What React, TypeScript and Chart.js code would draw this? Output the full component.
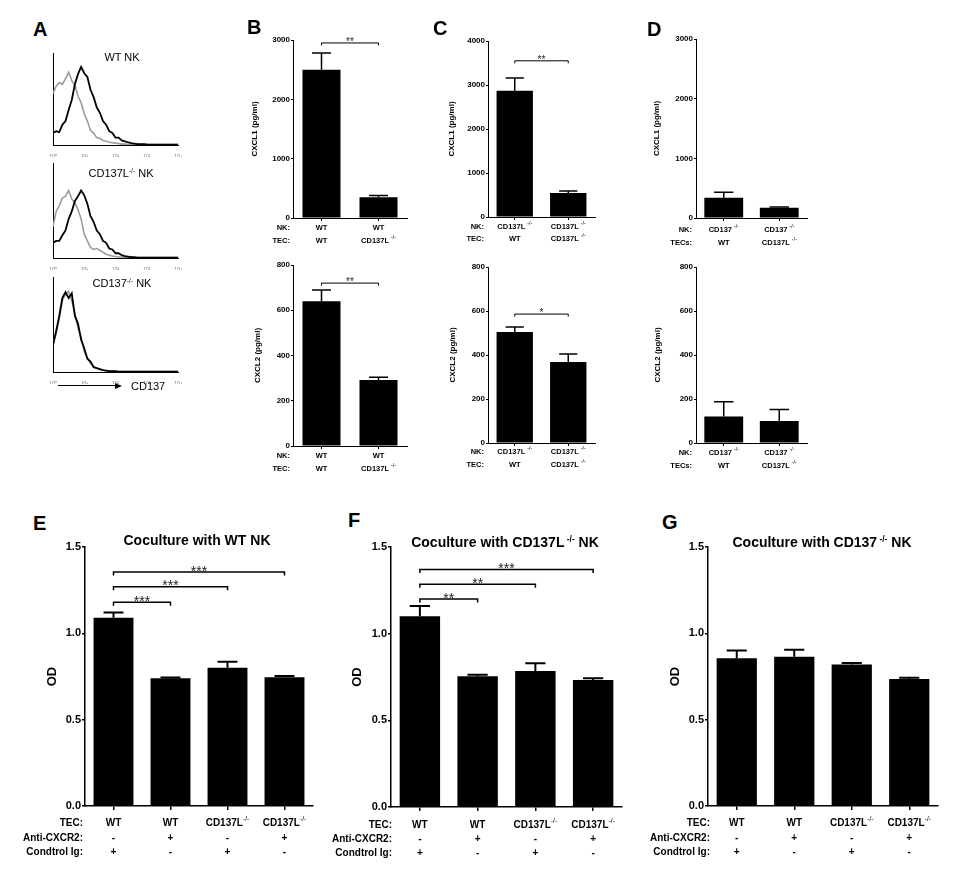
import React, { useEffect, useRef } from "react";
import { Chart, registerables } from "chart.js";
Chart.register(...registerables);

const FONT = '"Liberation Sans", Arial, Helvetica, sans-serif';
Chart.defaults.font.family = FONT;

// ---------- Panel A: flow histograms (x in log decades, y in % of max) ----------
const HIST_DECADES = [0, 0.1, 0.2, 0.3, 0.4, 0.5, 0.6, 0.7, 0.8, 0.9, 1, 1.1, 1.2, 1.3, 1.4, 1.5, 1.6, 1.7, 1.8, 1.9, 2, 2.1, 2.2, 2.3, 2.4, 2.5, 2.6, 2.7, 2.8, 2.9, 3, 3.1, 3.2, 3.3, 3.4, 3.5, 3.6, 3.7, 3.8, 3.9, 4];
const HIST_TICKS = ["10\u2070", "10\u00b9", "10\u00b2", "10\u00b3", "10\u2074"];
const A1_CD137 = [13, 15, 14, 22, 26, 38, 49, 66, 77, 85, 78, 74, 60, 52, 41, 35, 26, 22, 15, 13, 8, 8, 5, 4, 3, 2, 1.5, 1, 1, 0.8, 0.6, 0.5, 0.5, 0.5, 0.5, 0.5, 0.5, 0.5, 0.5, 0.5, 0.5];
const A1_ISO = [56, 64, 68, 66, 72, 79, 70, 65, 53, 46, 34, 26, 16, 13, 8, 7, 5, 4, 3, 2.5, 2, 1.5, 1, 1, 0.8, 0.5, 0.5, 0.5, 0.5, 0.5, 0.5, 0.5, 0.5, 0.5, 0.5, 0.5, 0.5, 0.5, 0.5, 0.5, 0.5];
const A2_CD137 = [16, 18, 18, 24, 29, 41, 49, 60, 65, 71, 66, 57, 44, 38, 29, 25, 18, 16, 10, 9, 5, 5, 3, 2, 1.5, 1, 1, 0.5, 0.5, 0.5, 0.5, 0.5, 0.5, 0.5, 0.5, 0.5, 0.5, 0.5, 0.5, 0.5, 0.5];
const A2_ISO = [33, 49, 55, 63, 65, 71, 62, 58, 51, 41, 25, 18, 11, 9, 10, 8, 6, 4, 3, 2, 1.5, 1, 1, 0.5, 0.5, 0.5, 0.5, 0.5, 0.5, 0.5, 0.5, 0.5, 0.5, 0.5, 0.5, 0.5, 0.5, 0.5, 0.5, 0.5, 0.5];
const A3_CD137 = [28, 43, 59, 78, 84, 78, 83, 59, 51, 34, 25, 14, 11, 5, 4, 3, 2, 1.5, 1, 1, 0.8, 0.5, 0.5, 0.5, 0.5, 0.5, 0.5, 0.5, 0.5, 0.5, 0.5, 0.5, 0.5, 0.5, 0.5, 0.5, 0.5, 0.5, 0.5, 0.5, 0.5];
const A3_ISO = [30, 40, 56, 75, 82, 85, 75, 62, 46, 37, 21, 15, 9, 6, 4, 2.5, 2, 1, 1, 0.8, 0.5, 0.5, 0.5, 0.5, 0.5, 0.5, 0.5, 0.5, 0.5, 0.5, 0.5, 0.5, 0.5, 0.5, 0.5, 0.5, 0.5, 0.5, 0.5, 0.5, 0.5];

// ---------- Panels B-D: chemokines (pg/ml) ----------
const B_NK = ["WT", "WT"];
const B_TEC = ["WT", "CD137L ^-/-"];
const C_NK = ["CD137L ^-/-", "CD137L ^-/-"];
const C_TEC = ["WT", "CD137L ^-/-"];
const D_NK = ["CD137 ^-/-", "CD137 ^-/-"];
const D_TEC = ["WT", "CD137L ^-/-"];

const B1_VALUES = [2500, 350];
const B1_ERR = [280, 30];
const B2_VALUES = [640, 292];
const B2_ERR = [50, 12];
const C1_VALUES = [2870, 545];
const C1_ERR = [290, 45];
const C2_VALUES = [505, 368];
const C2_ERR = [22, 37];
const D1_VALUES = [340, 170];
const D1_ERR = [90, 15];
const D2_VALUES = [120, 100];
const D2_ERR = [68, 52];

const B1_SIG = [{ from: 0, to: 1, y: 2950, text: "**" }];
const B2_SIG = [{ from: 0, to: 1, y: 720, text: "**" }];
const C1_SIG = [{ from: 0, to: 1, y: 3550, text: "**" }];
const C2_SIG = [{ from: 0, to: 1, y: 586, text: "*" }];

// ---------- Panels E-G: OD ----------
const EFG_TEC = ["WT", "WT", "CD137L^-/-", "CD137L^-/-"];
const EFG_ANTI = ["-", "+", "-", "+"];
const EFG_IG = ["+", "-", "+", "-"];
const EFG_HEADERS = ["TEC:", "Anti-CXCR2:", "Condtrol Ig:"];

const E_VALUES = [1.09, 0.74, 0.8, 0.745];
const E_ERR = [0.03, 0.004, 0.035, 0.008];
const F_VALUES = [1.1, 0.755, 0.785, 0.733];
const F_ERR = [0.06, 0.008, 0.045, 0.01];
const G_VALUES = [0.855, 0.865, 0.82, 0.735];
const G_ERR = [0.045, 0.04, 0.008, 0.008];

const E_SIG = [
  { from: 0, to: 1, y: 1.18, text: "***" },
  { from: 0, to: 2, y: 1.27, text: "***" },
  { from: 0, to: 3, y: 1.355, text: "***" },
];
const F_SIG = [
  { from: 0, to: 1, y: 1.2, text: "**" },
  { from: 0, to: 2, y: 1.285, text: "**" },
  { from: 0, to: 3, y: 1.37, text: "***" },
];

type Sig = { from: number; to: number; y: number; text: string };
type BarSpec = {
  box: number[];
  axisX: number;
  plotRight: number;
  plotTop: number;
  plotBottom: number;
  yMax: number;
  yStep: number;
  decimals: number;
  values: number[];
  errors: number[];
  barPct: number;
  yTitle: string;
  yTitleX: number;
  headers: string[];
  headerRight: number;
  rowOffsets: number[];
  cells: string[][];
  sigs: Sig[];
  big: boolean;
};

function drawRich(ctx: CanvasRenderingContext2D, text: string, x: number, y: number, size: number, align: string) {
  const parts = text.split("^");
  const base = parts[0];
  const sup = parts[1];
  const supSize = size * 0.68;
  ctx.font = `bold ${size}px ${FONT}`;
  const wb = ctx.measureText(base).width;
  let ws = 0;
  if (sup) {
    ctx.font = `${supSize}px ${FONT}`;
    ws = ctx.measureText(sup).width;
  }
  const total = wb + ws;
  const start = align === "center" ? x - total / 2 : align === "right" ? x - total : x;
  ctx.textAlign = "left";
  ctx.textBaseline = "middle";
  ctx.font = `bold ${size}px ${FONT}`;
  ctx.fillText(base, start, y);
  if (sup) {
    ctx.font = `${supSize}px ${FONT}`;
    ctx.fillText(sup, start + wb, y - size * 0.42);
  }
}

function barConfig(s: BarSpec): any {
  const [L, T, R, B] = s.box;
  const big = s.big;
  const titleSize = big ? 13 : 8;
  const tickSize = big ? 11 : 8;
  const labelSize = big ? 10 : 7.5;
  const lw = big ? 1.5 : 1;
  const padLeft = s.yTitleX - titleSize / 2 - L;
  const yWidth = s.axisX - L - padLeft;
  const padTop = s.plotTop - T;
  const padRight = R - s.plotRight;
  const xHeight = B - s.plotBottom;
  const extras = {
    id: "extras",
    afterDatasetsDraw(chart: any) {
      const ctx = chart.ctx as CanvasRenderingContext2D;
      const ys = chart.scales.y;
      const meta = chart.getDatasetMeta(0);
      ctx.save();
      ctx.strokeStyle = "#000";
      ctx.lineWidth = big ? 2 : 1.5;
      meta.data.forEach((el: any, i: number) => {
        const top = ys.getPixelForValue(s.values[i] + s.errors[i]);
        const half = el.width / 4;
        ctx.beginPath();
        ctx.moveTo(el.x, el.y);
        ctx.lineTo(el.x, top);
        ctx.moveTo(el.x - half, top);
        ctx.lineTo(el.x + half, top);
        ctx.stroke();
      });
      ctx.lineWidth = big ? 1.5 : 1;
      const tick = big ? 3.5 : 2.5;
      s.sigs.forEach((g) => {
        const x1 = meta.data[g.from].x;
        const x2 = meta.data[g.to].x;
        const y = ys.getPixelForValue(g.y);
        ctx.beginPath();
        ctx.moveTo(x1, y + tick);
        ctx.lineTo(x1, y);
        ctx.lineTo(x2, y);
        ctx.lineTo(x2, y + tick);
        ctx.stroke();
        ctx.fillStyle = "#222";
        ctx.font = `${big ? 14 : 10}px ${FONT}`;
        ctx.textAlign = "center";
        ctx.textBaseline = "alphabetic";
        ctx.fillText(g.text, (x1 + x2) / 2, y + (big ? 3.5 : 2));
      });
      ctx.restore();
    },
    afterDraw(chart: any) {
      const ctx = chart.ctx as CanvasRenderingContext2D;
      const meta = chart.getDatasetMeta(0);
      const bottom = chart.chartArea.bottom;
      ctx.save();
      ctx.fillStyle = "#000";
      s.rowOffsets.forEach((off, r) => {
        drawRich(ctx, s.headers[r], s.headerRight - L, bottom + off, labelSize, "right");
        s.cells[r].forEach((c, i) => {
          drawRich(ctx, c, meta.data[i].x, bottom + off, labelSize, "center");
        });
      });
      ctx.restore();
    },
  };
  return {
    type: "bar",
    data: {
      labels: s.values.map((_, i) => String(i)),
      datasets: [
        {
          data: s.values,
          backgroundColor: "#000",
          borderWidth: 0,
          barPercentage: s.barPct,
          categoryPercentage: 1,
        },
      ],
    },
    options: {
      animation: false,
      responsive: false,
      maintainAspectRatio: false,
      devicePixelRatio: 1,
      layout: { padding: { left: padLeft, top: padTop, right: padRight, bottom: 0 } },
      plugins: { legend: { display: false }, tooltip: { enabled: false }, title: { display: false } },
      scales: {
        x: {
          type: "category",
          offset: true,
          grid: { display: true, drawOnChartArea: false, drawTicks: true, tickLength: big ? 4 : 3, offset: false, color: "#000", lineWidth: lw },
          border: { display: true, color: "#000", width: lw },
          ticks: { display: true, callback: () => "", font: { size: 2 } },
          afterFit: (sc: any) => {
            sc.height = xHeight;
          },
        },
        y: {
          min: 0,
          max: s.yMax,
          ticks: {
            stepSize: s.yStep,
            callback: (v: any) => Number(v).toFixed(s.decimals),
            color: "#000",
            font: { family: FONT, size: tickSize, weight: "bold" },
            padding: 1,
          },
          grid: { drawOnChartArea: false, drawTicks: true, tickLength: big ? 3 : 2, color: "#000", lineWidth: lw },
          border: { display: true, color: "#000", width: lw },
          title: {
            display: true,
            text: s.yTitle,
            color: "#000",
            font: { family: FONT, size: titleSize, weight: "bold", lineHeight: 1 },
            padding: 0,
          },
          afterFit: (sc: any) => {
            sc.width = yWidth;
          },
        },
      },
    },
    plugins: [extras],
  };
}

type HistSpec = { box: number[]; axisX: number; plotRight: number; plotTop: number; plotBottom: number; stain: number[]; iso: number[] };

function histConfig(s: HistSpec): any {
  const [L, T, R, B] = s.box;
  const pts = (arr: number[]) => HIST_DECADES.map((x, i) => ({ x, y: arr[i] }));
  return {
    type: "line",
    data: {
      datasets: [
        { data: pts(s.stain), borderColor: "#000", borderWidth: 1.8, pointRadius: 0, tension: 0, fill: false },
        { data: pts(s.iso), borderColor: "#9c9c9c", borderWidth: 1.6, pointRadius: 0, tension: 0, fill: false },
      ],
    },
    options: {
      animation: false,
      responsive: false,
      maintainAspectRatio: false,
      devicePixelRatio: 1,
      layout: { padding: { left: 0, top: s.plotTop - T, right: R - s.plotRight, bottom: 0 } },
      plugins: { legend: { display: false }, tooltip: { enabled: false } },
      scales: {
        x: {
          type: "linear",
          min: 0,
          max: 4,
          ticks: {
            stepSize: 1,
            callback: (v: any) => HIST_TICKS[Math.round(Number(v))],
            font: { size: 5 },
            color: "#777",
            padding: 1,
            maxRotation: 0,
          },
          grid: { display: false },
          border: { display: true, color: "#000", width: 1 },
          afterFit: (sc: any) => {
            sc.height = B - s.plotBottom;
          },
        },
        y: {
          min: 0,
          max: 100,
          ticks: { display: false },
          grid: { display: false },
          border: { display: true, color: "#000", width: 1 },
          afterFit: (sc: any) => {
            sc.width = s.axisX - L;
          },
        },
      },
    },
  };
}

function ChartBox({ box, build }: { box: number[]; build: () => any }) {
  const ref = useRef<HTMLCanvasElement>(null);
  useEffect(() => {
    const chart = new Chart(ref.current as HTMLCanvasElement, build());
    return () => chart.destroy();
  }, []);
  const [L, T, R, B] = box;
  return (
    <canvas
      ref={ref}
      width={R - L}
      height={B - T}
      style={{ position: "absolute", left: L, top: T, width: R - L, height: B - T }}
    />
  );
}

function Txt({ x, y, size, bold, align, children }: any) {
  const tx = align === "left" ? "0" : align === "right" ? "-100%" : "-50%";
  return (
    <div
      style={{
        position: "absolute",
        left: x,
        top: y,
        transform: `translate(${tx}, -50%)`,
        fontFamily: FONT,
        fontSize: size,
        fontWeight: bold ? "bold" : "normal",
        lineHeight: 1,
        whiteSpace: "nowrap",
        color: "#000",
      }}
    >
      {children}
    </div>
  );
}

const Sup = ({ children }: any) => (
  <span style={{ fontSize: "0.6em", position: "relative", top: "-0.6em" }}>{children}</span>
);

const SMALL_B = { headers: ["NK:", "TEC:"], big: false };

const PANELS: BarSpec[] = [
  { ...SMALL_B, box: [240, 30, 415, 252], axisX: 293, plotRight: 407, plotTop: 40, plotBottom: 218, yMax: 3000, yStep: 1000, decimals: 0, values: B1_VALUES, errors: B1_ERR, barPct: 0.667, yTitle: "CXCL1 (pg/ml)", yTitleX: 255, headerRight: 290, rowOffsets: [10, 23], cells: [B_NK, B_TEC], sigs: B1_SIG },
  { ...SMALL_B, box: [240, 255, 415, 476], axisX: 293, plotRight: 407, plotTop: 265, plotBottom: 446, yMax: 800, yStep: 200, decimals: 0, values: B2_VALUES, errors: B2_ERR, barPct: 0.667, yTitle: "CXCL2 (pg/ml)", yTitleX: 258, headerRight: 290, rowOffsets: [10, 23], cells: [B_NK, B_TEC], sigs: B2_SIG },
  { ...SMALL_B, box: [430, 31, 603, 250], axisX: 488, plotRight: 595, plotTop: 41, plotBottom: 217, yMax: 4000, yStep: 1000, decimals: 0, values: C1_VALUES, errors: C1_ERR, barPct: 0.68, yTitle: "CXCL1 (pg/ml)", yTitleX: 452, headerRight: 484, rowOffsets: [10, 22], cells: [C_NK, C_TEC], sigs: C1_SIG },
  { ...SMALL_B, box: [430, 257, 603, 474], axisX: 488, plotRight: 595, plotTop: 267, plotBottom: 443, yMax: 800, yStep: 200, decimals: 0, values: C2_VALUES, errors: C2_ERR, barPct: 0.68, yTitle: "CXCL2 (pg/ml)", yTitleX: 453, headerRight: 484, rowOffsets: [9, 22], cells: [C_NK, C_TEC], sigs: C2_SIG },
  { ...SMALL_B, headers: ["NK:", "TECs:"], box: [630, 29, 815, 252], axisX: 696, plotRight: 807, plotTop: 39, plotBottom: 218, yMax: 3000, yStep: 1000, decimals: 0, values: D1_VALUES, errors: D1_ERR, barPct: 0.7, yTitle: "CXCL1 (pg/ml)", yTitleX: 657, headerRight: 692, rowOffsets: [12, 25], cells: [D_NK, D_TEC], sigs: [] },
  { ...SMALL_B, headers: ["NK:", "TECs:"], box: [630, 257, 815, 474], axisX: 696, plotRight: 807, plotTop: 267, plotBottom: 443, yMax: 800, yStep: 200, decimals: 0, values: D2_VALUES, errors: D2_ERR, barPct: 0.7, yTitle: "CXCL2 (pg/ml)", yTitleX: 658, headerRight: 692, rowOffsets: [10, 23], cells: [D_NK, D_TEC], sigs: [] },
  { headers: EFG_HEADERS, big: true, box: [10, 537, 320, 862], axisX: 85, plotRight: 313, plotTop: 547, plotBottom: 806, yMax: 1.5, yStep: 0.5, decimals: 1, values: E_VALUES, errors: E_ERR, barPct: 0.7, yTitle: "OD", yTitleX: 52, headerRight: 83, rowOffsets: [17, 32, 46], cells: [EFG_TEC, EFG_ANTI, EFG_IG], sigs: E_SIG },
  { headers: EFG_HEADERS, big: true, box: [325, 537, 630, 862], axisX: 391, plotRight: 622, plotTop: 547, plotBottom: 807, yMax: 1.5, yStep: 0.5, decimals: 1, values: F_VALUES, errors: F_ERR, barPct: 0.7, yTitle: "OD", yTitleX: 357, headerRight: 392, rowOffsets: [18, 32, 46], cells: [EFG_TEC, EFG_ANTI, EFG_IG], sigs: F_SIG },
  { headers: EFG_HEADERS, big: true, box: [640, 537, 950, 862], axisX: 708, plotRight: 938, plotTop: 547, plotBottom: 806, yMax: 1.5, yStep: 0.5, decimals: 1, values: G_VALUES, errors: G_ERR, barPct: 0.7, yTitle: "OD", yTitleX: 675, headerRight: 710, rowOffsets: [17, 32, 46], cells: [EFG_TEC, EFG_ANTI, EFG_IG], sigs: [] },
];

const HISTS: HistSpec[] = [
  { box: [45, 45, 190, 157], axisX: 53, plotRight: 178, plotTop: 53, plotBottom: 145, stain: A1_CD137, iso: A1_ISO },
  { box: [45, 155, 190, 270], axisX: 53, plotRight: 178, plotTop: 163, plotBottom: 258, stain: A2_CD137, iso: A2_ISO },
  { box: [45, 269, 190, 384], axisX: 53, plotRight: 178, plotTop: 277, plotBottom: 372, stain: A3_CD137, iso: A3_ISO },
];

const LETTERS = [
  { t: "A", x: 33, y: 28.5 },
  { t: "B", x: 247, y: 26.5 },
  { t: "C", x: 433, y: 27.5 },
  { t: "D", x: 647, y: 28.5 },
  { t: "E", x: 33, y: 522.5 },
  { t: "F", x: 348, y: 519.5 },
  { t: "G", x: 662, y: 521.5 },
];

export default function App() {
  return (
    <div style={{ position: "absolute", left: 0, top: 0, width: 961, height: 877, background: "#fff", overflow: "hidden" }}>
      {HISTS.map((h, i) => (
        <ChartBox key={"h" + i} box={h.box} build={() => histConfig(h)} />
      ))}
      {PANELS.map((p, i) => (
        <ChartBox key={"p" + i} box={p.box} build={() => barConfig(p)} />
      ))}
      {LETTERS.map((l) => (
        <Txt key={l.t} x={l.x} y={l.y} size={20} bold align="left">
          {l.t}
        </Txt>
      ))}
      <Txt x={122} y={57} size={11}>WT NK</Txt>
      <Txt x={121} y={173} size={11}>
        CD137L<Sup>-/-</Sup> NK
      </Txt>
      <Txt x={122} y={283} size={11}>
        CD137<Sup>-/-</Sup> NK
      </Txt>
      <div style={{ position: "absolute", left: 58, top: 385, width: 58, height: 0, borderTop: "1px solid #000" }} />
      <div
        style={{
          position: "absolute",
          left: 115,
          top: 382.5,
          width: 0,
          height: 0,
          borderLeft: "7px solid #000",
          borderTop: "3px solid transparent",
          borderBottom: "3px solid transparent",
        }}
      />
      <Txt x={131} y={386} size={11} align="left">CD137</Txt>
      <Txt x={197} y={540} size={14} bold>Coculture with WT NK</Txt>
      <Txt x={505} y={542} size={14} bold>
        Coculture with CD137L<Sup> -/-</Sup> NK
      </Txt>
      <Txt x={822} y={542} size={14} bold>
        Coculture with CD137<Sup> -/-</Sup> NK
      </Txt>
    </div>
  );
}
